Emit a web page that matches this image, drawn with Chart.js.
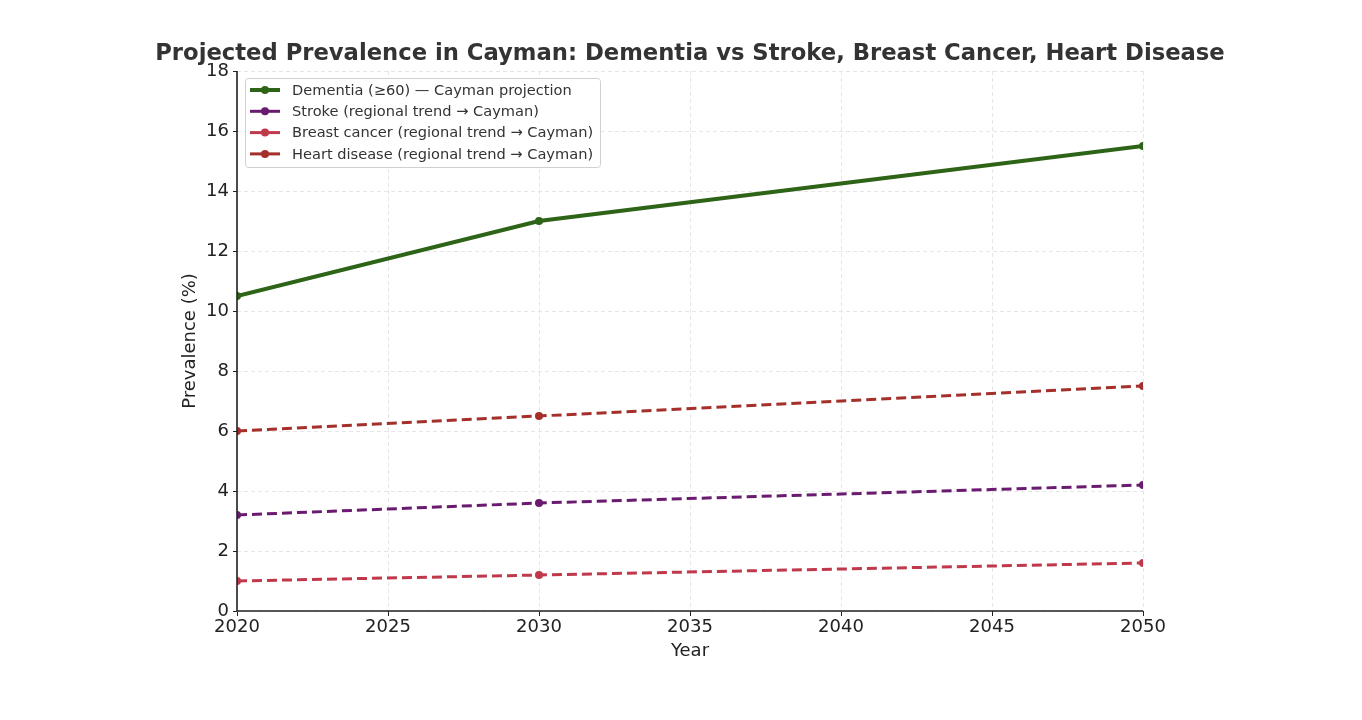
<!DOCTYPE html>
<html>
<head>
<meta charset="utf-8">
<script src="https://cdn.jsdelivr.net/npm/chart.js@4/dist/chart.umd.min.js"></script>
<style>
  html, body { margin: 0; padding: 0; background: #fff; }
  #wrap { width: 1362px; height: 720px; }
</style>
</head>
<body>
<div id="wrap"><canvas id="c" width="1362" height="720"></canvas></div>
<script>
// data
const years = [2020, 2030, 2050];
const dementia = [10.5, 13.0, 15.5];
const stroke = [3.2, 3.6, 4.2];
const breast = [1.0, 1.2, 1.6];
const heart = [6.0, 6.5, 7.5];
const seriesLabels = [
  'Dementia (\u226560) \u2014 Cayman projection',
  'Stroke (regional trend \u2192 Cayman)',
  'Breast cancer (regional trend \u2192 Cayman)',
  'Heart disease (regional trend \u2192 Cayman)'
];
const titleText = 'Projected Prevalence in Cayman: Dementia vs Stroke, Breast Cancer, Heart Disease';
const FONT = "'DejaVu Sans', sans-serif";

function pts(vals) { return years.map((y, i) => ({ x: y, y: vals[i] })); }

function ds(label, vals, color, width, dash) {
  return {
    label: label, data: pts(vals),
    borderColor: color, backgroundColor: color,
    borderWidth: width, borderDash: dash,
    pointRadius: 4, pointHoverRadius: 4, pointBorderWidth: 0,
    pointBackgroundColor: color, pointBorderColor: color,
    tension: 0, fill: false
  };
}

// title + legend box drawn by hand so the plot area can be pinned
const decor = {
  id: 'decor',
  afterDraw(chart) {
    const ctx = chart.ctx;
    ctx.save();
    ctx.fillStyle = '#333';
    ctx.font = 'bold 22.7px ' + FONT;
    ctx.textAlign = 'center';
    ctx.textBaseline = 'middle';
    ctx.fillText(titleText, 690, 54);

    // legend
    const bx = 245, by = 78, bw = 355, bh = 89;
    ctx.fillStyle = 'rgba(255,255,255,0.85)';
    ctx.strokeStyle = '#d0d0d0';
    ctx.lineWidth = 1;
    ctx.beginPath();
    ctx.roundRect(bx + 0.5, by + 0.5, bw, bh, 3);
    ctx.fill();
    ctx.stroke();
    ctx.font = '14.6px ' + FONT;
    ctx.textAlign = 'left';
    chart.data.datasets.forEach((d, i) => {
      const y = 90 + i * 21.3;
      ctx.strokeStyle = d.borderColor;
      ctx.lineWidth = d.borderWidth;
      ctx.setLineDash([]);
      ctx.beginPath();
      ctx.moveTo(250, y);
      ctx.lineTo(280, y);
      ctx.stroke();
      ctx.fillStyle = d.borderColor;
      ctx.beginPath();
      ctx.arc(265, y, 4, 0, Math.PI * 2);
      ctx.fill();
      ctx.fillStyle = '#333';
      ctx.fillText(d.label, 292, y + 1);
    });

    // spines
    const a = chart.chartArea;
    ctx.strokeStyle = '#222';
    ctx.lineWidth = 1.6;
    ctx.beginPath();
    ctx.moveTo(a.left, a.top);
    ctx.lineTo(a.left, a.bottom);
    ctx.lineTo(a.right, a.bottom);
    ctx.stroke();
    ctx.restore();
  }
};

new Chart(document.getElementById('c'), {
  type: 'line',
  data: {
    datasets: [
      ds(seriesLabels[0], dementia, '#2e6417', 4, []),
      ds(seriesLabels[1], stroke, '#6a1b6f', 3, [10, 5]),
      ds(seriesLabels[2], breast, '#c0394b', 3, [10, 5]),
      ds(seriesLabels[3], heart, '#a52f2a', 3, [10, 5])
    ]
  },
  options: {
    responsive: false,
    animation: false,
    layout: { padding: { left: 172, top: 71, right: 219, bottom: 58 } },
    plugins: { legend: { display: false }, title: { display: false }, tooltip: { enabled: false } },
    scales: {
      x: {
        type: 'linear', min: 2020, max: 2050,
        ticks: { stepSize: 5, color: '#222', font: { family: FONT, size: 18 }, padding: 1, maxRotation: 0,
                 callback: v => String(v) },
        grid: { color: '#e6e6e6', tickLength: 5, tickColor: '#222', lineWidth: 1 },
        border: { display: false, dash: [4, 3] },
        title: { display: true, text: 'Year', color: '#222', font: { family: FONT, size: 18 }, padding: { top: 0, bottom: 0 } },
        afterFit(s) { s.height = 51; }
      },
      y: {
        min: 0, max: 18,
        ticks: { stepSize: 2, color: '#222', font: { family: FONT, size: 18 }, padding: 4 },
        grid: { color: '#e6e6e6', tickLength: 4, tickColor: '#222', lineWidth: 1 },
        border: { display: false, dash: [4, 3] },
        title: { display: true, text: 'Prevalence (%)', color: '#222', font: { family: FONT, size: 18 }, padding: { top: 8, bottom: 0 } },
        afterFit(s) { s.width = 65; }
      }
    }
  },
  plugins: [decor]
});
</script>
</body>
</html>
